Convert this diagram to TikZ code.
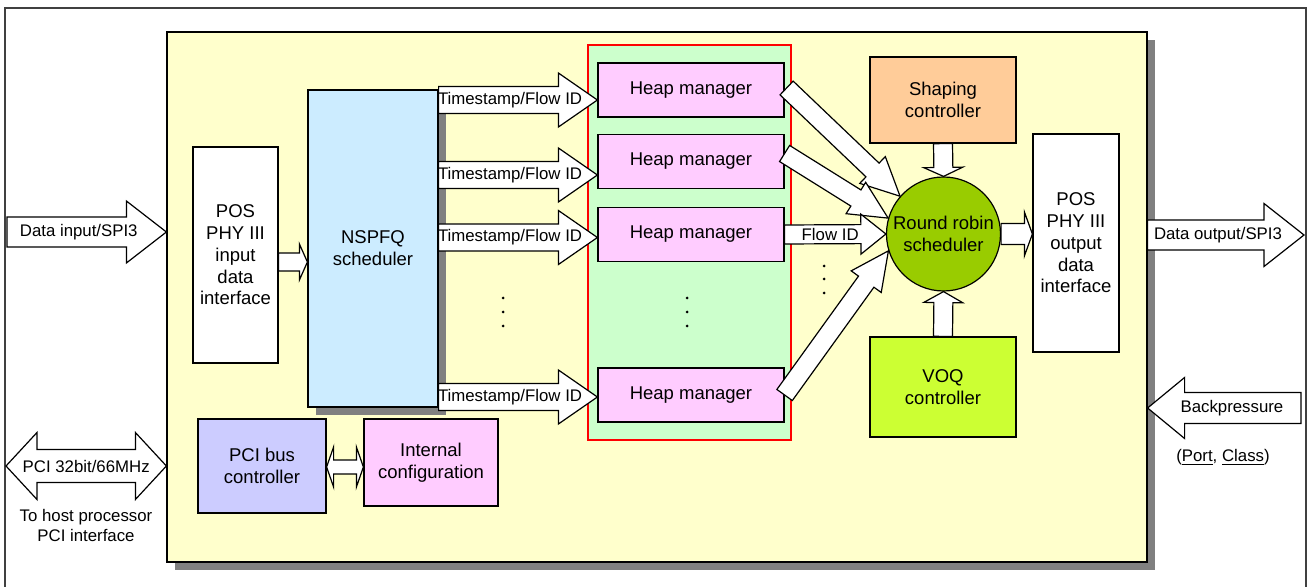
\documentclass[tikz,border=0pt]{standalone}
\usepackage{fontspec}
\setmainfont{Liberation Sans}
\usetikzlibrary{calc,shadows}

\definecolor{boardyellow}{HTML}{FFFFCC}
\definecolor{nspfqblue}{HTML}{CCECFF}
\definecolor{heapgreen}{HTML}{CCFFCC}
\definecolor{heappink}{HTML}{FFCCFF}
\definecolor{shapeorange}{HTML}{FFCC99}
\definecolor{rrgreen}{HTML}{99CC00}
\definecolor{voqgreen}{HTML}{CCFF33}
\definecolor{pciblue}{HTML}{CCCCFF}
\definecolor{shadowgray}{HTML}{808080}

\newcommand{\boxfont}{\fontsize{9.25}{10.9}\selectfont}
\newcommand{\arrowfont}{\fontsize{8.4}{10}\selectfont}

% hollow block arrow: shaft half width, head half width, head length, from, to, label
\newcommand{\fatarrow}[6]{%
  \coordinate (fa-s) at (#4);
  \coordinate (fa-e) at (#5);
  \coordinate (fa-b) at ($(fa-e)!#3!(fa-s)$);
  \draw[fat] ($(fa-s)!#1!-90:(fa-e)$) -- ($(fa-b)!#1!90:(fa-s)$)
    -- ($(fa-b)!#2!90:(fa-s)$) -- (fa-e) -- ($(fa-b)!#2!-90:(fa-s)$)
    -- ($(fa-b)!#1!-90:(fa-s)$) -- ($(fa-s)!#1!90:(fa-e)$) -- cycle;
  \if\relax\detokenize{#6}\relax\else
    \node[fatlabel] at ($(fa-s)!0.45!(fa-e)$) {#6};
  \fi
}
% same with a head on both ends
\newcommand{\fatdarrow}[6]{%
  \coordinate (fa-s) at (#4);
  \coordinate (fa-e) at (#5);
  \coordinate (fa-b1) at ($(fa-s)!#3!(fa-e)$);
  \coordinate (fa-b2) at ($(fa-e)!#3!(fa-s)$);
  \draw[fat] (fa-s) -- ($(fa-b1)!#2!90:(fa-e)$) -- ($(fa-b1)!#1!90:(fa-e)$)
    -- ($(fa-b2)!#1!-90:(fa-s)$) -- ($(fa-b2)!#2!-90:(fa-s)$) -- (fa-e)
    -- ($(fa-b2)!#2!90:(fa-s)$) -- ($(fa-b2)!#1!90:(fa-s)$)
    -- ($(fa-b1)!#1!-90:(fa-e)$) -- ($(fa-b1)!#2!-90:(fa-e)$) -- cycle;
  \if\relax\detokenize{#6}\relax\else
    \node[fatlabel] at ($(fa-s)!0.5!(fa-e)$) {#6};
  \fi
}

\begin{document}
\begin{tikzpicture}[x=0.5pt,y=-0.5pt,
    bx/.style={draw,line width=0.6pt,align=center,inner sep=0pt,font=\boxfont},
    shadowed/.style={drop shadow={shadow xshift=4pt,shadow yshift=-4pt,fill=shadowgray,opacity=1}},
    hm/.style={bx,fill=heappink,minimum width=93pt,minimum height=27pt},
    fat/.style={draw,fill=white,line width=0.6pt,line join=miter},
    fatlabel/.style={inner sep=0pt,font=\arrowfont},
    note/.style={align=center,inner sep=0pt,font=\arrowfont}]
  \useasboundingbox (0,0) rectangle (1308,587);
  \draw[black!75,line width=0.6pt] (5,600) |- (1306,8) -- (1306,600);

  % chip board
  \node[draw,line width=0.6pt,fill=boardyellow,shadowed,minimum width=490pt,
    minimum height=265pt] (board) at (657,297) {};

  \node[bx,fill=white,minimum width=42.5pt,minimum height=108pt] (inpif) at (235.5,255)
    {POS\\PHY III\\input\\data\\interface};
  \node[bx,fill=nspfqblue,shadowed,minimum width=65pt,minimum height=158.5pt] (nspfq)
    at (373,248.5) {NSPFQ\\scheduler};

  % heap managers
  \node[draw=red,line width=1pt,fill=heapgreen,minimum width=101.5pt,
    minimum height=197.5pt] (heaps) at (689.5,242.5) {};
  \foreach \y [count=\i] in {90,161.5,234.5,395}
    \node[hm] (hm\i) at (691,\y) {Heap manager};

  \node[bx,fill=shapeorange,minimum width=73pt,minimum height=43pt] (shaping)
    at (943,100) {Shaping\\controller};
  \node[bx,circle,fill=rrgreen,minimum size=57pt] (rr) at (943.5,234)
    {Round robin\\scheduler};
  \node[bx,fill=voqgreen,minimum width=73pt,minimum height=50pt] (voq)
    at (943,387) {VOQ\\controller};
  \node[bx,fill=white,minimum width=43pt,minimum height=109pt] (outif) at (1076,243)
    {POS\\PHY III\\output\\data\\interface};

  \node[bx,fill=pciblue,minimum width=64pt,minimum height=47pt] (pcibus) at (262,466)
    {PCI bus\\controller};
  \node[bx,fill=heappink,minimum width=67pt,minimum height=43.5pt] (intcfg)
    at (431,462.5) {Internal\\configuration};

  % ports
  \coordinate (datain) at (7,232);
  \coordinate (dataout) at (1304,235);
  \coordinate (bp) at (1301,408);
  \coordinate (host) at (6,466);
  \fatarrow{7.5pt}{15.5pt}{20pt}{datain}{board.west|-datain}{Data input/SPI3}
  \fatarrow{7.5pt}{15.75pt}{20pt}{board.east|-dataout}{dataout}{Data output/SPI3}
  \fatarrow{7.75pt}{15.25pt}{18.5pt}{bp}{board.east|-bp}{Backpressure}
  \fatdarrow{8.25pt}{16.75pt}{15.5pt}{host}{board.west|-host}{PCI 32bit/66MHz}
  \node[note] (hostnote) at (86,525) {To host processor\\PCI interface};
  \node[note] (bpnote) at (1223,457) {(\underline{Port}, \underline{Class})};

  % data path
  \fatarrow{4.5pt}{9pt}{4pt}{$(inpif.east)+(0,7)$}{$(nspfq.west|-inpif)+(0,7)$}{}
  \foreach \i/\dy in {1/10,2/13.5,3/3,4/2}{
    \fatarrow{6.75pt}{13.5pt}{19.5pt}{$(nspfq.east|-hm\i)+(0,\dy)$}{$(hm\i.west)+(0,\dy)$}{Timestamp/Flow ID}
  }
  \fatarrow{4.75pt}{9.25pt}{19pt}{$(hm1.east)+(2,-2)$}{rr.139}{}
  \fatarrow{4.75pt}{9.25pt}{19pt}{$(hm2.east)+(0,-8)$}{rr.164}{}
  \fatarrow{4.75pt}{10pt}{12.5pt}{hm3.east}{rr.west}{Flow ID}
  \fatarrow{4.75pt}{9.25pt}{19pt}{hm4.east}{rr.197}{}
  \fatarrow{4.75pt}{9.75pt}{4.5pt}{shaping.south}{rr.north}{}
  \fatarrow{4.75pt}{9.75pt}{5.5pt}{voq.north}{rr.south}{}
  \fatarrow{5.25pt}{11pt}{4pt}{rr.east}{outif.west|-rr}{}
  \fatdarrow{3.5pt}{10pt}{3.5pt}{$(pcibus.east)+(0,1)$}{$(intcfg.west|-pcibus)+(0,1)$}{}

  % more queues than drawn
  \foreach \x in {503,687}
    \foreach \y in {298,312,326}
      \fill (\x,\y) circle (0.75pt);
  \foreach \y in {266,279,293}
    \fill (824,\y) circle (0.75pt);
\end{tikzpicture}
\end{document}
